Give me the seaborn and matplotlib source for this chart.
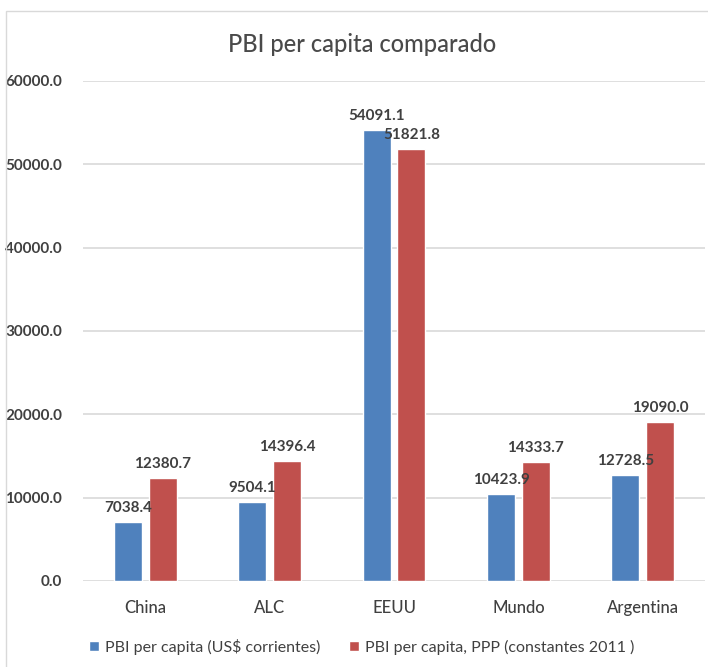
import pandas as pd
import matplotlib
matplotlib.use("Agg")
import matplotlib.pyplot as plt
import seaborn as sns

# datos
paises = ["China", "ALC", "EEUU", "Mundo", "Argentina"]
pbi_corrientes = [7038.4, 9504.1, 54091.1, 10423.9, 12728.5]
pbi_ppp = [12380.7, 14396.4, 51821.8, 14333.7, 19090.0]
series = ["PBI per capita (US$ corrientes)", "PBI per capita, PPP (constantes 2011 )"]
colores = ["#4F81BD", "#C0504D"]
yticks = [0, 10000, 20000, 30000, 40000, 50000, 60000]

df = pd.DataFrame({
    "pais": paises * 2,
    "valor": pbi_corrientes + pbi_ppp,
    "serie": [series[0]] * len(paises) + [series[1]] * len(paises),
})

sns.set_style("white")
plt.rcParams["font.family"] = ["Lato", "DejaVu Sans"]

fig = plt.figure(figsize=(7.08, 6.67), dpi=100)
ax = fig.add_axes([83 / 708, 86 / 667, 622 / 708, 500 / 667])

sns.barplot(data=df, x="pais", y="valor", hue="serie", palette=colores,
            width=0.56, gap=0.2, ax=ax, legend=True, saturation=1)

for cont in ax.containers:
    ax.bar_label(cont, fmt="%.1f", padding=5, fontsize=11, fontweight="bold",
                 color="#404040")

ax.set_ylim(0, 60000)
ax.set_yticks(yticks)
ax.set_yticklabels([f"{v:.1f}" for v in yticks], fontsize=11, fontweight="bold",
                   color="#404040")
ax.tick_params(axis="y", length=0, pad=15)
ax.tick_params(axis="x", length=0, pad=14, labelsize=12, labelcolor="#404040")
for lbl in ax.get_xticklabels():
    lbl.set_fontweight("medium")
ax.grid(axis="y", color="#D9D9D9", linewidth=1.2)
ax.set_axisbelow(True)
for s in ax.spines.values():
    s.set_visible(False)
ax.set_xlabel("")
ax.set_ylabel("")

fig.text(362 / 708, 1 - 44 / 667, "PBI per capita comparado", ha="center",
         va="center", fontsize=17, color="#4a4a4a", fontweight="medium")

h, l = ax.get_legend_handles_labels()
ax.get_legend().remove()
fig.legend(h, l, loc="center", bbox_to_anchor=(362 / 708, 1 - 647 / 667), ncol=2,
           frameon=False, fontsize=11.5, handlelength=0.6, handleheight=0.6,
           handletextpad=0.4, columnspacing=1.8, labelcolor="#404040")

# borde del area del grafico
fig.patches.append(plt.Rectangle((6 / 708, -0.1), 1.2, 1 - 11 / 667 + 0.1,
                                 transform=fig.transFigure, fill=False,
                                 edgecolor="#D9D9D9", linewidth=1))

fig.savefig("out.png", dpi=100)
